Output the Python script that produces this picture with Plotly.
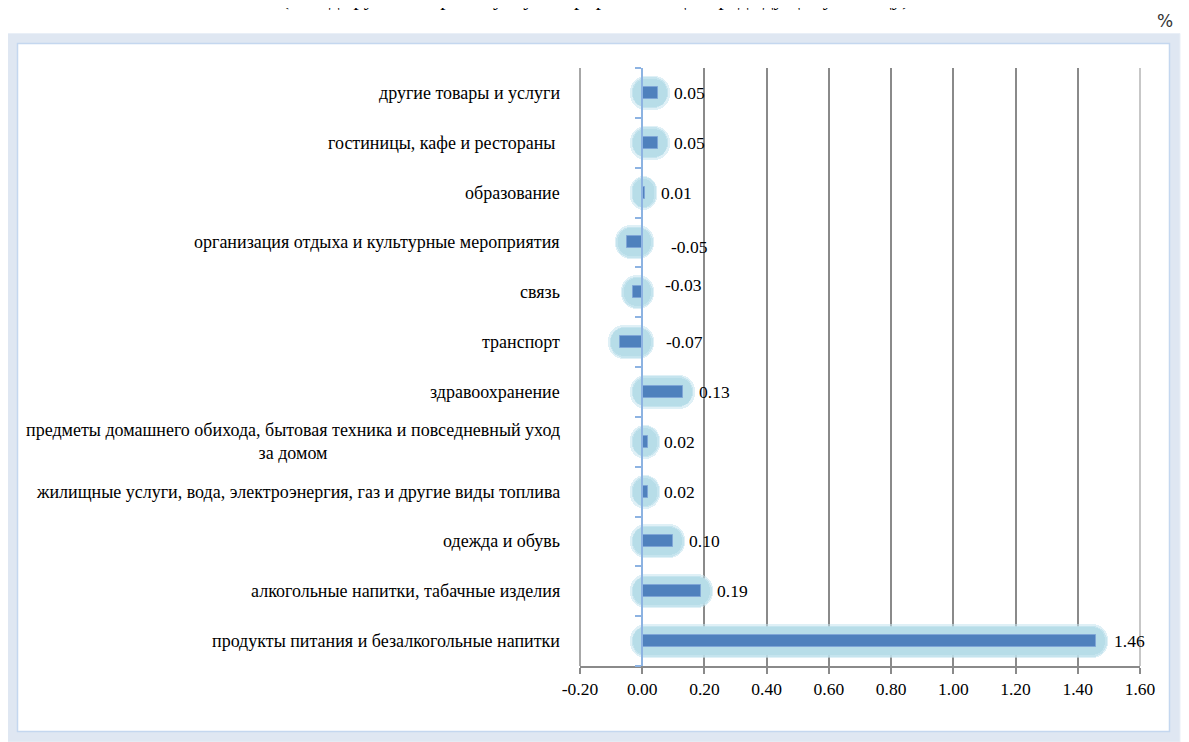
import plotly.graph_objects as go

# ---------------- data ----------------
categories = [
    "продукты питания и безалкогольные напитки",
    "алкогольные напитки, табачные изделия",
    "одежда и обувь",
    "жилищные услуги, вода, электроэнергия, газ и другие виды топлива",
    "предметы домашнего обихода, бытовая техника и повседневный уход<br>за домом",
    "здравоохранение",
    "транспорт",
    "связь",
    "организация отдыха и культурные мероприятия",
    "образование",
    "гостиницы, кафе и рестораны\u00a0",
    "другие товары и услуги",
]
values = [1.46, 0.19, 0.10, 0.02, 0.02, 0.13, -0.07, -0.03, -0.05, 0.01, 0.05, 0.05]
value_labels = ["1.46", "0.19", "0.10", "0.02", "0.02", "0.13", "-0.07", "-0.03", "-0.05", "0.01", "0.05", "0.05"]
x_tickvals = [-0.2, 0.0, 0.2, 0.4, 0.6, 0.8, 1.0, 1.2, 1.4, 1.6]
x_ticktext = ["-0.20", "0.00", "0.20", "0.40", "0.60", "0.80", "1.00", "1.20", "1.40", "1.60"]
title_text = "(вклад групп товаров и услуг в прирост ИПЦ к предыдущему месяцу)"
unit_text = "%"

# ---------------- layout geometry (pixels, in screenshot coordinates) ----------------
OFF = 8  # page body margin
W, H = 1189 - OFF, 742 - OFF
L, R, T, B = 580, 1140, 68, 666
XMIN, XMAX = -0.2, 1.6
PX_PER_UNIT = (R - L) / (XMAX - XMIN)
BAND = (B - T) / 12


def pxx(p):
    return (p - L) / (R - L)


def pxy(p):
    return (B - p) / (B - T)


SERIF = "Liberation Serif, Times New Roman, serif"

# data label offsets (pixels): xshift from bar end / zero, yshift
label_dx = [16, 14, 14, 14, 14, 14, 22, 21, 27, 14, 14, 14]
label_dy = [0, 0, 0, 0, 0, 0, 0, 7, -5, 0, 0, 0]

fig = go.Figure()

# soft glow layers: (padding px, bar width fraction, rgba colour)
glow_layers = [
    (12, 0.68, "rgba(196,228,238,0.55)"),
    (10.5, 0.62, "rgba(188,224,235,0.75)"),
    (9, 0.56, "rgba(183,221,232,1)"),
]
for pad_px, wfrac, col in glow_layers:
    pad = pad_px / PX_PER_UNIT
    lefts = [min(v, 0) - pad for v in values]
    spans = [abs(v) + 2 * pad for v in values]
    fig.add_trace(go.Bar(
        y=categories, x=spans, base=lefts,
        orientation="h", width=wfrac,
        marker=dict(color=col, line=dict(width=0),
                    cornerradius=int(wfrac * BAND / 2)),
        hoverinfo="skip", showlegend=False,
    ))

# main bars
fig.add_trace(go.Bar(
    y=categories, x=values, orientation="h", width=0.24,
    marker=dict(color="#4f81bd", line=dict(color="#7fa6d6", width=1)),
    showlegend=False,
))

annotations = []
# category labels
for c in categories:
    annotations.append(dict(
        x=pxx(562), xref="paper", y=c, yref="y", text=c,
        xanchor="right", yanchor="middle", align="center", showarrow=False,
        font=dict(family=SERIF, size=18, color="#000000"),
    ))
# data labels
for c, v, t, dx, dy in zip(categories, values, value_labels, label_dx, label_dy):
    annotations.append(dict(
        x=max(v, 0), xref="x", y=c, yref="y", text=t,
        xanchor="left", yanchor="middle", showarrow=False,
        xshift=dx, yshift=dy,
        font=dict(family=SERIF, size=17.5, color="#000000"),
    ))
# unit and clipped title
annotations.append(dict(
    x=pxx(1175), xref="paper", y=pxy(21), yref="paper", text=unit_text,
    xanchor="right", yanchor="middle", showarrow=False,
    font=dict(family="DejaVu Sans, Arial, sans-serif", size=17, color="#333333"),
))
annotations.append(dict(
    x=pxx(595), xref="paper", y=pxy(12), yref="paper", text=title_text,
    xanchor="center", yanchor="bottom", showarrow=False,
    font=dict(family=SERIF, size=21, color="#000000"),
))

shapes = [
    # outer chart frame
    dict(type="rect", xref="paper", yref="paper",
         x0=pxx(12), x1=pxx(1175), y0=pxy(737), y1=pxy(38),
         line=dict(color="#dfe7f2", width=10), fillcolor="rgba(0,0,0,0)", layer="below"),
    dict(type="rect", xref="paper", yref="paper",
         x0=pxx(7.5), x1=pxx(1180), y0=pxy(742), y1=pxy(33.5),
         line=dict(color="#e9eff7", width=1), fillcolor="rgba(0,0,0,0)", layer="below"),
    dict(type="rect", xref="paper", yref="paper",
         x0=pxx(17.5), x1=pxx(1169.5), y0=pxy(731.5), y1=pxy(43.5),
         line=dict(color="#c4d7ef", width=1.5), fillcolor="rgba(0,0,0,0)", layer="below"),
    # plot-area side edges (gridlines at the range ends)
    dict(type="line", xref="paper", yref="paper", x0=0, x1=0, y0=0, y1=1,
         line=dict(color="#8a8a8a", width=1.5), layer="below"),
    dict(type="line", xref="paper", yref="paper", x0=1, x1=1, y0=0, y1=1,
         line=dict(color="#b4b4b4", width=1.5), layer="below"),
]

fig.update_layout(
    width=W, height=H,
    margin=dict(l=L - OFF, r=1189 - R, t=T - OFF, b=742 - B, pad=0),
    paper_bgcolor="white", plot_bgcolor="white",
    barmode="overlay", bargap=0,
    annotations=annotations, shapes=shapes,
    xaxis=dict(
        range=[XMIN, XMAX], tickvals=x_tickvals, ticktext=x_ticktext,
        showgrid=True, gridcolor="#8a8a8a", gridwidth=1.5,
        zeroline=False, showline=True, linecolor="#8a8a8a", linewidth=1.5,
        ticks="outside", ticklen=6, tickcolor="#8a8a8a", tickwidth=1.5,
        tickfont=dict(family=SERIF, size=17.5, color="#000000"),
        fixedrange=True,
    ),
    yaxis=dict(
        type="category", categoryorder="array", categoryarray=categories,
        anchor="free", position=(0 - XMIN) / (XMAX - XMIN),
        showline=True, linecolor="#8db3e2", linewidth=1.5,
        ticks="outside", tickson="boundaries", ticklen=6,
        tickcolor="#8db3e2", tickwidth=1.5,
        showticklabels=False, showgrid=False, zeroline=False,
        range=[-0.5, len(categories) - 0.5], fixedrange=True,
    ),
)

fig.write_html("out.html")
